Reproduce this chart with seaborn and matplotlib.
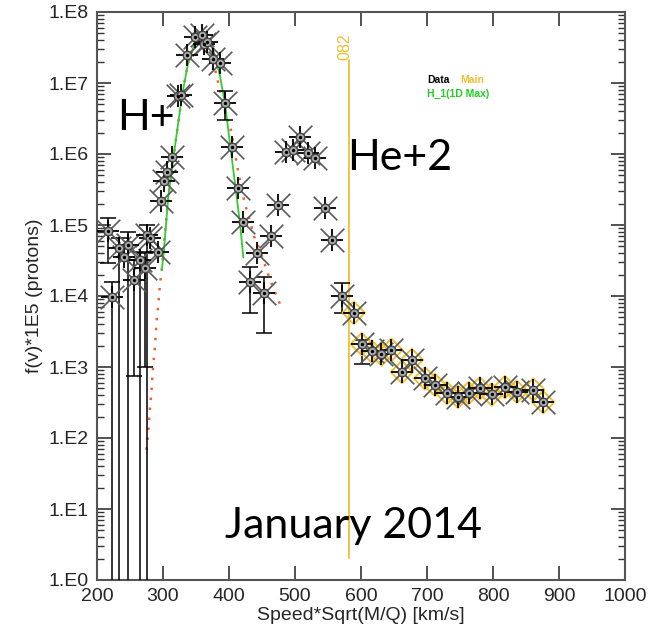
import numpy as np
import pandas as pd
import matplotlib
matplotlib.use("Agg")
import matplotlib.pyplot as plt
import matplotlib.ticker as mticker
import seaborn as sns

# ---------------- data ----------------
data_v = [216, 222, 233, 241, 247.5, 256.5, 265, 272.7, 275, 280, 293,
          297, 302, 305.6, 313, 323, 327, 336, 348, 358.6, 362, 366, 376, 386,
          394, 404, 413, 421.7, 432, 442, 453, 463, 474, 487, 497, 507.6, 520,
          530, 545, 555.6, 571]
data_f = [8.1e4, 9.8e3, 4.7e4, 3.5e4, 5.2e4, 1.7e4, 3.2e4, 2.5e4, 7.2e4, 6.6e4, 4.2e4,
          2.2e5, 4.1e5, 5.6e5, 9.1e5, 6.6e6, 6.8e6, 2.5e7, 4.5e7, 4.8e7, 3.5e7, 3.8e7, 2.2e7, 1.9e7,
          5.2e6, 1.26e6, 3.3e5, 1.1e5, 1.55e4, 4.0e4, 1.1e4, 7.1e4, 1.9e5, 1.07e6, 1.15e6, 1.74e6, 1.02e6,
          8.7e5, 1.74e5, 6.2e4, 1.0e4]

main_v = [589, 601, 616, 631, 646, 662, 677, 697, 712, 730, 747, 763, 780, 798,
          818, 836, 861, 876]
main_f = [5.8e3, 2.1e3, 1.66e3, 1.5e3, 1.74e3, 850, 1.26e3, 690, 560, 430, 380, 430,
          500, 410, 520, 450, 480, 320]

# error bars (value, lower, upper) for the points where they are visible
err_v = [216, 222, 233, 247.5, 256.5, 265, 272.7, 275, 394, 432, 453, 571, 601]
err_f = [8.1e4, 9.8e3, 4.7e4, 5.2e4, 1.7e4, 3.2e4, 2.5e4, 7.2e4, 5.2e6, 1.55e4, 1.1e4, 1.0e4, 2.1e3]
err_lo = [2.9e4, 0.3, 0.3, 0.3, 740, 0.3, 1.0e3, 0.3, 3.0e6, 5.8e3, 3.0e3, 5.8e3, 1.1e3]
err_hi = [1.26e5, 1.6e4, 6.5e4, 8.0e4, 3.2e4, 4.2e4, 4.0e4, 1.0e5, 7.6e6, 2.6e4, 1.86e4, 1.5e4, 2.4e3]

# H_1 (1D Max) fit (green)
fit_v = [298, 300.5, 308, 318, 329, 338, 348.5, 357.6, 366, 376, 386, 394, 401.5, 409, 416.7, 421.7]
fit_f = [2.3e4, 3.5e4, 2.5e5, 1.26e6, 6.8e6, 1.9e7, 3.8e7, 4.6e7, 4.3e7, 2.9e7, 1.3e7, 5.1e6,
         1.4e6, 3.9e5, 1.05e5, 3.5e4]

# orange dotted model
mod_v = [275, 278, 280, 283, 285, 288, 290, 293, 295.5, 298, 308, 318, 329, 338, 348.5, 357.6,
         366, 372, 380, 390, 398, 404, 411.6, 416.7, 424, 430, 438, 444, 454.5, 459.5, 472, 477]
mod_f = [68, 130, 245, 525, 1000, 2040, 4170, 7940, 1.5e4, 2.3e4, 2.5e5, 1.26e6, 6.8e6, 1.9e7,
         3.8e7, 4.6e7, 4.3e7, 3.4e7, 1.4e7, 5.6e6, 3.0e6, 2.0e6, 7.4e5, 4.2e5, 2.0e5, 1.3e5,
         6.9e4, 5.2e4, 2.75e4, 2.0e4, 1.0e4, 7.8e3]

x_ticks = [200, 300, 400, 500, 600, 700, 800, 900, 1000]
y_exps = [0, 1, 2, 3, 4, 5, 6, 7, 8]
y_labels = ["1.E%d" % e for e in y_exps]

# ---------------- figure ----------------
sns.set_style("ticks")
plt.rcParams["font.family"] = ["Liberation Sans", "DejaVu Sans"]

fig = plt.figure(figsize=(6.48, 6.37), dpi=100)
ax = fig.add_axes([97 / 648, 1 - 580 / 637, 528 / 648, 568 / 637])
ax.set_yscale("log")
ax.set_xlim(200, 1000)
ax.set_ylim(1, 1e8)

all_df = pd.DataFrame({"v": data_v + main_v, "f": data_f + main_f})
main_df = pd.DataFrame({"v": main_v, "f": main_f})

gold = "#f0c030"
# model curves
ax.plot(mod_v, mod_f, linestyle=(0, (1, 3)), color="#e8643c", linewidth=1.8, zorder=2)
sns.lineplot(x=fit_v, y=fit_f, color="#33cc33", linewidth=1.3, ax=ax, sort=False,
             estimator=None, zorder=3)

# vertical "Main" line
ax.axvline(582, ymin=22 / 568, ymax=520 / 568, color=gold, linewidth=1.3, zorder=1)
ax.text(576, 10 ** 7.33, "082", rotation=90, ha="center", va="bottom",
        color=gold, fontsize=11.5)

# error bars
f_arr = np.array(err_f)
ax.errorbar(err_v, err_f, yerr=[f_arr - np.array(err_lo), np.array(err_hi) - f_arr],
            fmt="none", ecolor="black", elinewidth=1.1, capsize=6, capthick=1.1, zorder=4)

# markers
sns.scatterplot(data=main_df, x="v", y="f", marker="D", s=130, facecolor="none",
                edgecolor=gold, linewidth=1.4, ax=ax, legend=False, zorder=4)
sns.scatterplot(data=all_df, x="v", y="f", marker="x", s=17 ** 2, color="#5a5a5a",
                linewidth=1.2, ax=ax, legend=False, zorder=5)
sns.scatterplot(data=all_df, x="v", y="f", marker="+", s=16 ** 2, color="black",
                linewidth=1.3, ax=ax, legend=False, zorder=6)
sns.scatterplot(data=all_df, x="v", y="f", marker="o", s=38, facecolor="#aaaaaa",
                edgecolor="#444444", linewidth=1.0, ax=ax, legend=False, zorder=7)
sns.scatterplot(data=all_df, x="v", y="f", marker="o", s=6, color="black",
                linewidth=0, ax=ax, legend=False, zorder=8)

# annotations
big = dict(fontsize=31, color="black", family=["Lato", "DejaVu Sans"])
ax.text(230.5, 10 ** 6.34, "H+", ha="left", va="baseline", **big)
ax.text(579, 10 ** 5.77, "He+2", ha="left", va="baseline", **big)
ax.text(394, 10 ** 0.59, "January 2014", ha="left", va="baseline", **big)

ax.text(700, 10 ** 7.0, "Data", fontsize=7.5, color="black", weight="bold", va="baseline")
ax.text(750, 10 ** 7.0, "Main", fontsize=7.5, color=gold, weight="bold", va="baseline")
ax.text(700, 10 ** 6.80, "H_1(1D Max)", fontsize=7.5, color="#22cc22", weight="bold",
        va="baseline")

# axes styling
ax.set_xticks(x_ticks)
ax.xaxis.set_minor_locator(mticker.NullLocator())
ax.set_yticks([10.0 ** e for e in y_exps])
ax.set_yticklabels(y_labels)
ax.yaxis.set_minor_locator(mticker.LogLocator(base=10, subs=np.arange(2, 10), numticks=20))
ax.yaxis.set_minor_formatter(mticker.NullFormatter())
ax.tick_params(which="major", direction="in", top=True, right=True, length=10,
               width=1.2, color="#333333", labelsize=14, pad=6)
ax.tick_params(which="minor", direction="in", left=True, right=True, length=5,
               width=1.0, color="#333333")
for s in ax.spines.values():
    s.set_color("#555555")
    s.set_linewidth(1.5)
    s.set_visible(True)

ax.set_xlabel("Speed*Sqrt(M/Q) [km/s]", fontsize=14, labelpad=1)
ax.set_ylabel("f(v)*1E5 (protons)", fontsize=14, labelpad=4)

fig.savefig("out.png", dpi=100)
